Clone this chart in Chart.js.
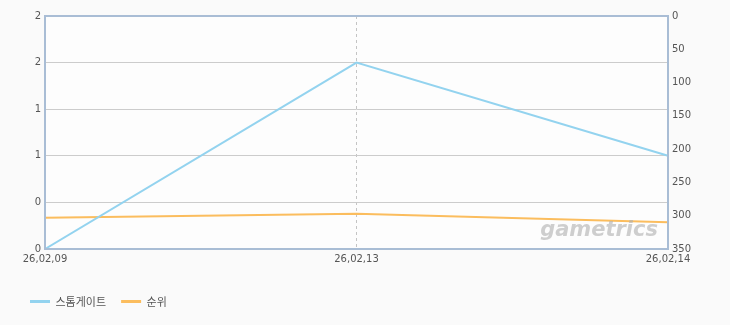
<!DOCTYPE html>
<html>
<head>
<meta charset="utf-8">
<script src="https://cdn.jsdelivr.net/npm/chart.js@4.4.1/dist/chart.umd.min.js"></script>
<style>
  html, body { margin: 0; padding: 0; background: #fafafa; }
  #wrap { width: 730px; height: 325px; }
</style>
</head>
<body>
<div id="wrap"><canvas id="chart" width="730" height="325"></canvas></div>
<script>
const dates = ["26,02,09", "26,02,13", "26,02,14"];
const seriesNames = ["스톰게이트", "순위"];
const users = [0, 1.6, 0.8];
const rank = [303, 297, 310];
const leftTickLabels = ["0", "0", "1", "1", "2", "2"];

// frame + white plot bg + watermark
const framePlugin = {
  id: "frame",
  beforeDraw(chart) {
    const { ctx, chartArea: a } = chart;
    ctx.save();
    ctx.fillStyle = "#fafafa";
    ctx.fillRect(0, 0, chart.width, chart.height);
    ctx.fillStyle = "#fdfdfd";
    ctx.fillRect(a.left, a.top, a.right - a.left, a.bottom - a.top);
    ctx.restore();
  },
  afterDatasetsDraw(chart) {
    const { ctx, chartArea: a } = chart;
    ctx.save();
    ctx.font = "italic bold 21px 'DejaVu Sans'";
    ctx.fillStyle = "rgba(175,175,175,0.6)";
    ctx.textAlign = "right";
    ctx.textBaseline = "alphabetic";
    ctx.fillText("gametrics", a.right - 10, a.bottom - 13);
    ctx.strokeStyle = "#a9bdd5";
    ctx.lineWidth = 2;
    ctx.strokeRect(a.left, a.top, a.right - a.left, a.bottom - a.top);
    ctx.restore();
  }
};

const tickFont = { family: "'DejaVu Sans', sans-serif", size: 10 };

new Chart(document.getElementById("chart"), {
  type: "line",
  data: {
    labels: dates,
    datasets: [{
      label: seriesNames[0],
      data: users,
      borderColor: "#93d3ef",
      backgroundColor: "#93d3ef",
      borderWidth: 2,
      pointRadius: 0,
      tension: 0,
      yAxisID: "y"
    }, {
      label: seriesNames[1],
      data: rank,
      borderColor: "#fbbd5e",
      backgroundColor: "#fbbd5e",
      borderWidth: 2,
      pointRadius: 0,
      tension: 0,
      yAxisID: "y1"
    }]
  },
  options: {
    responsive: false,
    animation: false,
    layout: { padding: { left: 15, right: 20, top: 16, bottom: 8 } },
    plugins: {
      tooltip: { enabled: false },
      legend: {
        position: "bottom",
        align: "start",
        labels: {
          boxWidth: 20,
          boxHeight: 3,
          padding: 15,
          color: "#555",
          font: { family: "'Noto Sans CJK KR', sans-serif", size: 11 },
          generateLabels(chart) {
            return Chart.defaults.plugins.legend.labels.generateLabels(chart)
              .map(l => Object.assign(l, { lineWidth: 0 }));
          }
        }
      }
    },
    scales: {
      x: {
        offset: false,
        grid: {
          drawTicks: false,
          color: ctx => ctx.index === 1 ? "#c4c4c4" : "rgba(0,0,0,0)"
        },
        border: { display: false, dash: [3, 3] },
        ticks: { color: "#555", font: tickFont, padding: 4, maxRotation: 0, autoSkip: false },
        afterFit(scale) { scale.height += 12; }
      },
      y: {
        position: "left",
        min: 0,
        max: 2,
        grid: { color: "#cccccc", drawTicks: false },
        border: { display: false },
        ticks: {
          stepSize: 0.4,
          color: "#555",
          font: tickFont,
          padding: 4,
          callback: (v) => leftTickLabels[Math.round(v / 0.4)]
        },
        afterFit(scale) { scale.width = 30; }
      },
      y1: {
        position: "right",
        reverse: true,
        min: 0,
        max: 350,
        grid: { display: false, drawTicks: false },
        border: { display: false },
        ticks: {
          stepSize: 50,
          color: "#555",
          font: tickFont,
          padding: 4,
          callback: (v) => v
        },
        afterFit(scale) { scale.width = 42; }
      }
    }
  },
  plugins: [framePlugin]
});
</script>
</body>
</html>
